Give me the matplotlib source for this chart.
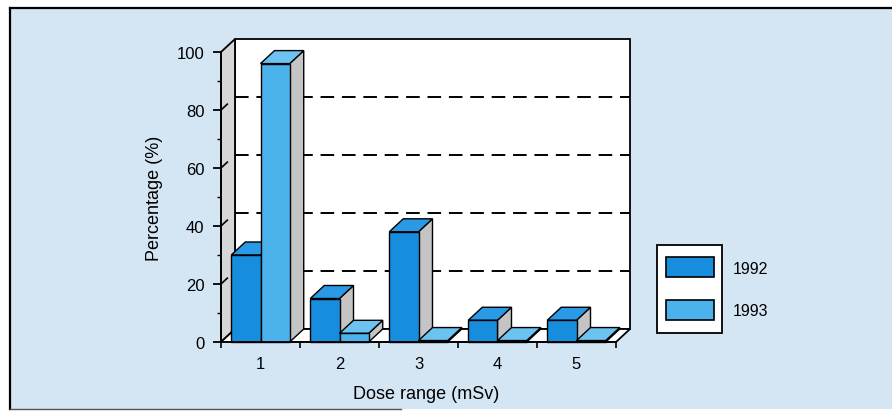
import matplotlib.pyplot as plt
from matplotlib.patches import Polygon, Rectangle
from matplotlib.lines import Line2D

plt.rcParams['font.family'] = ['Liberation Sans', 'DejaVu Sans']

# data
dose_ranges = [1, 2, 3, 4, 5]
pct_1992 = [30, 15, 38, 7.5, 7.5]
pct_1993 = [96, 3, 0.5, 0.5, 0.5]
years = ['1992', '1993']
y_ticks = [0, 20, 40, 60, 80, 100]

col_1992 = '#168ddd'
col_1993 = '#4cb2ec'
top_1992 = '#2a9ae6'
top_1993 = '#6cc2f0'
side_col = '#c4c4c4'
wall_col = '#d6d6d6'
bg_col = '#d4e5f4'

W, H = 892, 414
fig = plt.figure(figsize=(W / 100, H / 100), dpi=100)
fig.patch.set_facecolor('white')


def px(x, y):
    return (x / W, 1 - y / H)


# panel background and frame
fig.add_artist(Rectangle(px(10, 410), (W - 10) / W, 401 / H,
                         transform=fig.transFigure, facecolor=bg_col,
                         edgecolor='none', zorder=-10))
fig.add_artist(Line2D([10 / W, 10 / W], [1 - 9 / H, 1 - 410 / H],
                      transform=fig.transFigure, color='black', lw=1.6))
fig.add_artist(Line2D([10 / W, 1], [1 - 9 / H, 1 - 9 / H],
                      transform=fig.transFigure, color='black', lw=1.6))
fig.add_artist(Line2D([10 / W, 0.45], [1 - 410 / H, 1 - 410 / H],
                      transform=fig.transFigure, color='#555555', lw=1.0))

# axes: x 0.5 -> 221px, 79px per group; y 0 -> 343px, 2.9px per unit
ax = fig.add_axes([221 / W, (H - 343) / H, 395 / W, 290 / H])
ax.set_xlim(0.5, 5.5)
ax.set_ylim(0, 100)
ax.set_facecolor('none')

dx = 14 / 79.0
dy = 13 / 2.9
x0, x1 = 0.5, 5.5
bw = 0.37

# walls and floor
ax.add_patch(Polygon([(x0 + dx, dy), (x1 + dx, dy), (x1 + dx, 100 + dy), (x0 + dx, 100 + dy)],
                     closed=True, facecolor='white', edgecolor='black', lw=1.3, zorder=1, clip_on=False))
ax.add_patch(Polygon([(x0, 0), (x0 + dx, dy), (x0 + dx, 100 + dy), (x0, 100)],
                     closed=True, facecolor=wall_col, edgecolor='black', lw=1.3, zorder=1, clip_on=False))
ax.add_patch(Polygon([(x0, 0), (x1, 0), (x1 + dx, dy), (x0 + dx, dy)],
                     closed=True, facecolor='white', edgecolor='black', lw=1.3, zorder=1, clip_on=False))

# dashed grid on the back wall, short slanted ticks on the side wall
for v in y_ticks[1:-1]:
    ax.plot([x0 + dx, x1 + dx], [v + dy, v + dy], color='black', lw=1.4,
            dashes=(7, 4), zorder=2, clip_on=False)
for v in y_ticks[1:-1]:
    ax.plot([x0, x0 + dx * 0.45], [v, v + dy * 0.45], color='black', lw=1.2,
            zorder=2, clip_on=False)


def bar3d(x, v, front, top):
    l, r = x - bw / 2, x + bw / 2
    ax.add_patch(Polygon([(r, 0), (r + dx, dy), (r + dx, v + dy), (r, v)], closed=True,
                         facecolor=side_col, edgecolor='black', lw=1.0, zorder=3, clip_on=False))
    ax.add_patch(Polygon([(l, v), (r, v), (r + dx, v + dy), (l + dx, v + dy)], closed=True,
                         facecolor=top, edgecolor='black', lw=1.0, zorder=3, clip_on=False))
    ax.bar(x, v, width=bw, color=front, edgecolor='black', lw=1.0, zorder=3, clip_on=False)


for i, d in enumerate(dose_ranges):
    bar3d(d - bw / 2, pct_1992[i], col_1992, top_1992)
    bar3d(d + bw / 2, pct_1993[i], col_1993, top_1993)

# axes styling
for s in ['top', 'right']:
    ax.spines[s].set_visible(False)
ax.spines['left'].set_linewidth(1.3)
ax.spines['bottom'].set_linewidth(1.3)
ax.spines['left'].set_zorder(4)
ax.spines['bottom'].set_zorder(4)
ax.set_yticks(y_ticks)
ax.set_yticks([10, 30, 50, 70, 90], minor=True)
ax.tick_params(axis='y', which='major', length=6, width=1.3, labelsize=12, pad=6)
ax.tick_params(axis='y', which='minor', length=3, width=1.0)
ax.set_xticks(dose_ranges)
ax.set_xticks([0.5, 1.5, 2.5, 3.5, 4.5, 5.5], minor=True)
ax.tick_params(axis='x', which='major', length=0, labelsize=12, pad=10)
ax.tick_params(axis='x', which='minor', length=4, width=1.2)
ax.set_ylabel('Percentage (%)', fontsize=13, labelpad=10)
ax.set_xlabel('Dose range (mSv)', fontsize=13)
ax.xaxis.set_label_coords(0.52, -0.15)

# legend: framed swatches with labels to the right of the box
fig.add_artist(Rectangle(px(657, 334), 65 / W, 88 / H, transform=fig.transFigure,
                         facecolor='white', edgecolor='black', lw=1.3))
for (y_top, col, lab) in [(258, col_1992, years[0]), (301, col_1993, years[1])]:
    fig.add_artist(Rectangle(px(666, y_top + 20), 48 / W, 20 / H, transform=fig.transFigure,
                             facecolor=col, edgecolor='black', lw=1.2))
    fig.text(*px(733, y_top + 11), lab, fontsize=11.5, va='center', ha='left')

fig.savefig('out.png', dpi=100)
